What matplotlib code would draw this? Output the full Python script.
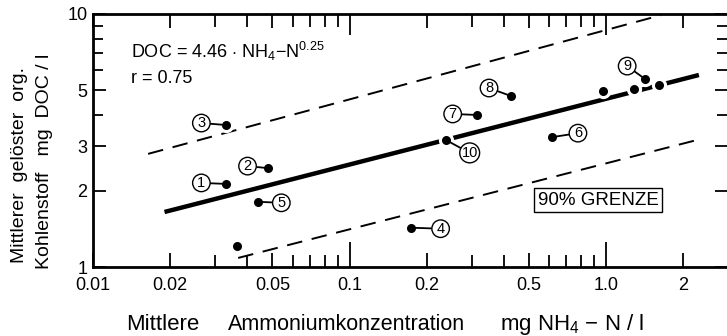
import matplotlib
matplotlib.use("Agg")
import matplotlib.pyplot as plt
from matplotlib.ticker import FixedLocator, NullFormatter

plt.rcParams['font.family'] = ['Liberation Sans', 'DejaVu Sans']
plt.rcParams['mathtext.fontset'] = 'custom'
plt.rcParams['mathtext.rm'] = 'Liberation Sans'

# measured points: mean NH4-N (mg/l) vs mean DOC (mg/l)
nh4 = [0.0331, 0.0479, 0.0331, 0.173, 0.0441, 0.615, 0.313, 0.426, 1.42, 0.237,
       0.0365, 0.973, 1.29, 1.61]
doc = [2.13, 2.46, 3.64, 1.43, 1.81, 3.26, 3.99, 4.74, 5.53, 3.18,
       1.21, 4.96, 5.05, 5.24]
labels = ["1", "2", "3", "4", "5", "6", "7", "8", "9", "10", "", "", "", ""]

# regression line DOC = 4.46 * NH4-N^0.25 and 90% limits (end points)
fit_x = [0.019, 2.3]
fit_y = [1.65, 5.74]
upper_x = [0.0164, 1.64]
upper_y = [2.80, 9.9]
lower_x = [0.0368, 2.27]
lower_y = [1.086, 3.18]

x_ticks = [0.01, 0.02, 0.05, 0.1, 0.2, 0.5, 1.0, 2]
x_ticklabels = ["0.01", "0.02", "0.05", "0.1", "0.2", "0.5", "1.0", "2"]
y_ticks = [1, 2, 3, 5, 10]
y_ticklabels = ["1", "2", "3", "5", "10"]

# label offsets in pixels (dx, dy)
offsets = {"1": (-25, 1), "2": (-20, 2), "3": (-25, 2), "4": (30, -1), "5": (23, -1),
           "6": (26, 4), "7": (-24, 1), "8": (-22, 8), "9": (-18, 13), "10": (24, -13)}

fig = plt.figure(figsize=(7.27, 3.36), dpi=100)
ax = fig.add_axes([93/727, 1-267/336, 1-93/727, (267-14)/336])
ax.set_xscale('log')
ax.set_yscale('log')
ax.set_xlim(0.01, 2.96)
ax.set_ylim(1, 10)

ax.plot(fit_x, fit_y, color='black', lw=3.2, zorder=2, solid_capstyle='butt')
ax.plot(upper_x, upper_y, color='black', lw=1.4, dashes=(8, 5), zorder=2)
ax.plot(lower_x, lower_y, color='black', lw=1.4, dashes=(8, 5), zorder=2)

ax.plot(nh4, doc, 'o', color='white', ms=11, mew=0, zorder=3)
ax.plot(nh4, doc, 'o', color='black', ms=6.5, mew=0, zorder=6)

for xv, yv, lab in zip(nh4, doc, labels):
    if not lab:
        continue
    dx, dy = offsets[lab]
    ax.annotate(lab, (xv, yv), xytext=(dx, dy), textcoords='offset pixels',
                ha='center', va='center', fontsize=10.5, zorder=5,
                bbox=dict(boxstyle='circle,pad=0.12', fc='white', ec='black', lw=1),
                arrowprops=dict(arrowstyle='-', lw=1.3, color='black',
                                shrinkA=0, shrinkB=0))

ax.text(0.0141, 7.08, r"DOC = 4.46 $\cdot$ NH$_4$$-$N$^{0.25}$", fontsize=13, va='center')
ax.text(0.0141, 5.58, "r = 0.75", fontsize=13, va='center')
ax.text(0.93, 1.84, "90% GRENZE", fontsize=13.5, ha='center', va='center',
        bbox=dict(boxstyle='square,pad=0.2', fc='white', ec='black', lw=1))

ax.xaxis.set_major_locator(FixedLocator(x_ticks))
ax.set_xticklabels(x_ticklabels)
ax.xaxis.set_minor_locator(FixedLocator([0.03, 0.04, 0.06, 0.07, 0.08, 0.09,
                                         0.3, 0.4, 0.6, 0.7, 0.8, 0.9]))
ax.xaxis.set_minor_formatter(NullFormatter())
ax.yaxis.set_major_locator(FixedLocator(y_ticks))
ax.set_yticklabels(y_ticklabels)
ax.yaxis.set_minor_locator(FixedLocator([4, 6, 7, 8, 9]))
ax.yaxis.set_minor_formatter(NullFormatter())

ax.tick_params(axis='x', which='both', direction='in', top=True, width=1.3,
               labelsize=13, pad=7)
ax.tick_params(axis='x', which='major', length=10)
ax.tick_params(axis='x', which='minor', length=9)
for t in ax.xaxis.get_major_ticks():
    if t.get_loc() in (0.1, 1.0):
        t.tick1line.set_markersize(18)
        t.tick2line.set_markersize(15)
ax.tick_params(axis='y', which='both', direction='in', right=True, width=1.3,
               labelsize=13, pad=4)
ax.tick_params(axis='y', which='major', length=9)
ax.tick_params(axis='y', which='minor', length=7)

for s in ['left', 'bottom', 'top']:
    ax.spines[s].set_linewidth(2)
ax.spines['right'].set_visible(False)

fig.text(20/727, 1-165/336, "Mittlerer  gelöster  org.", rotation=90,
         ha='center', va='center', fontsize=14)
fig.text(45/727, 1-161/336, "Kohlenstoff   mg  DOC / l", rotation=90,
         ha='center', va='center', fontsize=14)

fig.text(126/727, 1-330/336, "Mittlere", ha='left', va='baseline', fontsize=16)
fig.text(228/727, 1-330/336, "Ammoniumkonzentration", ha='left', va='baseline',
         fontsize=15.5)
fig.text(500/727, 1-330/336, r"mg NH$_4$ $-$ N / l", ha='left', va='baseline',
         fontsize=16)

fig.savefig("out.png", dpi=100)
